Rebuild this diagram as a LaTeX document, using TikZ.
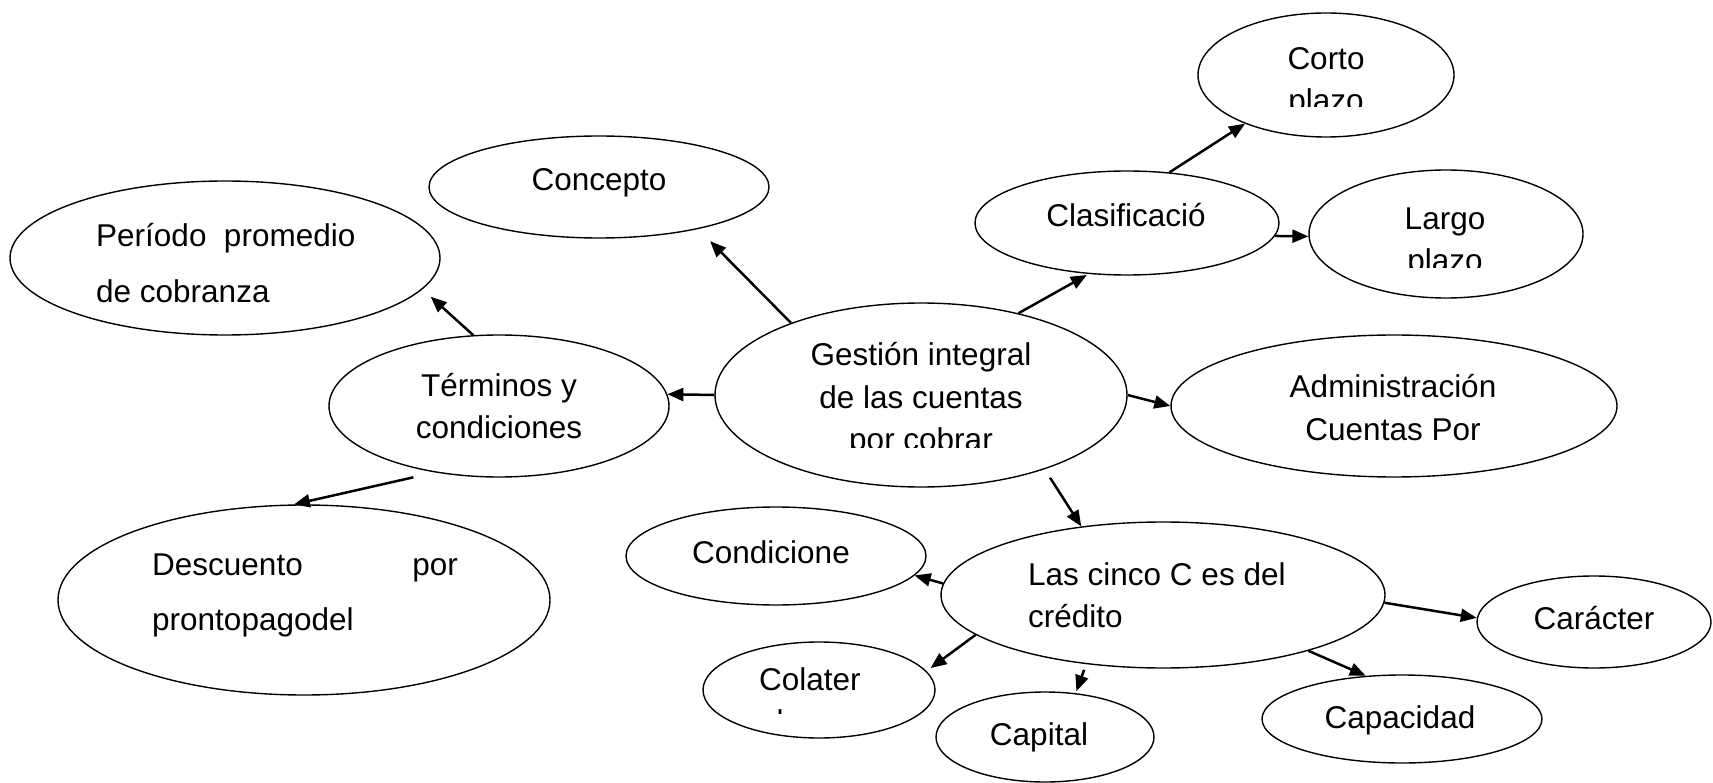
\documentclass[tikz,border=0pt]{standalone}
\usepackage{fontspec}
\setmainfont{Liberation Sans}
\usetikzlibrary{arrows.meta,shapes.geometric}
\begin{document}
\begin{tikzpicture}[x=1pt,y=-1pt,
  ell/.style={draw, ellipse, line width=1.4pt, inner sep=0pt},
  lbl/.style={inner sep=0pt, font=\fontsize{31.5}{42}\selectfont},
  arr/.style={line width=2.5pt, -{Triangle[length=16pt,width=13pt]}}]
\useasboundingbox (0,0) rectangle (1713,783);

% ellipses
\node[ell, minimum width=412pt, minimum height=184pt] (g)   at (921,395) {};
\node[ell, minimum width=340pt, minimum height=102pt] (con) at (599,187) {};
\node[ell, minimum width=430pt, minimum height=154pt] (per) at (225,258) {};
\node[ell, minimum width=340pt, minimum height=142pt] (ter) at (499,406) {};
\node[ell, minimum width=492pt, minimum height=190pt] (des) at (304,600) {};
\node[ell, minimum width=304pt, minimum height=104pt] (cla) at (1127,223) {};
\node[ell, minimum width=256pt, minimum height=124pt] (cor) at (1326,75) {};
\node[ell, minimum width=274pt, minimum height=128pt] (lar) at (1446,234) {};
\node[ell, minimum width=446pt, minimum height=142pt] (adm) at (1394,406) {};
\node[ell, minimum width=444pt, minimum height=146pt] (cin) at (1163,595) {};
\node[ell, minimum width=300pt, minimum height=98pt]  (cnd) at (776,556) {};
\node[ell, minimum width=232pt, minimum height=96pt]  (col) at (819,690) {};
\node[ell, minimum width=218pt, minimum height=90pt]  (cap) at (1045,737) {};
\node[ell, minimum width=280pt, minimum height=88pt]  (cpd) at (1402,719) {};
\node[ell, minimum width=234pt, minimum height=92pt]  (car) at (1594,622) {};

% texts
\node[lbl, anchor=base] (gt1) at (921,366) {Gestión integral};
\node[lbl, anchor=base] (gt2) at (921,408) {de las cuentas};
\begin{scope}
  \clip (800,420) rectangle (1040,447);
  \node[lbl, anchor=base] (gt3) at (921,450) {por cobrar};
\end{scope}
\node[lbl, anchor=base] (cont) at (599,191) {Concepto};
\node[lbl, anchor=base west] (pert1) at (96,247) {Período~~promedio};
\node[lbl, anchor=base west] (pert2) at (96,303) {de cobranza};
\node[lbl, anchor=base] (tert1) at (499,396) {Términos y};
\node[lbl, anchor=base] (tert2) at (499,438) {condiciones};
\node[lbl, anchor=base west] (dest1) at (152,575) {Descuento};
\node[lbl, anchor=base east] (dest2) at (458,575) {por};
\node[lbl, anchor=base west] (dest3) at (152,630) {prontopagodel};
\node[lbl, anchor=base] (clat) at (1126,227) {Clasificació};
\node[lbl, anchor=base] (cort1) at (1326,70) {Corto};
\begin{scope}
  \clip (1250,80) rectangle (1400,107);
  \node[lbl, anchor=base] (cort2) at (1326,112) {plazo};
\end{scope}
\node[lbl, anchor=base] (lart1) at (1445,230) {Largo};
\begin{scope}
  \clip (1370,240) rectangle (1520,268);
  \node[lbl, anchor=base] (lart2) at (1445,272) {plazo};
\end{scope}
\node[lbl, anchor=base] (admt1) at (1393,398) {Administración};
\node[lbl, anchor=base] (admt2) at (1393,440) {Cuentas Por};
\node[lbl, anchor=base west] (cint1) at (1028,585) {Las cinco C es del};
\node[lbl, anchor=base west] (cint2) at (1028,627) {crédito};
\node[lbl, anchor=base] (cndt) at (771,563) {Condicione};
\node[lbl, anchor=base west] (colt1) at (759,690) {Colater};
\begin{scope}
  \clip (740,700) rectangle (880,713);
  \node[lbl, anchor=base west] (colt2) at (759,732) {al};
\end{scope}
\node[lbl, anchor=base] (capt) at (1039,745) {Capital};
\node[lbl, anchor=base] (cpdt) at (1400,728) {Capacidad};
\node[lbl, anchor=base] (cart) at (1594,629) {Carácter};

% connectors
\draw[arr, shorten >=17pt] (g.151.9) -- (con.-23.4);
\draw[arr] (g.180) -- (ter.4);
\draw[arr, shorten >=11pt] (ter.110.6) -- (per.-9.6);
\draw[arr, shorten <=22pt] (ter.-134.6) -- (des.96.7);
\draw[arr, shorten >=2pt] (g.40.2) -- (cla.-127.7);
\draw[arr] (cla.50.3) -- (cor.-149.3);
\draw[arr] (cla.-5.3) -- (lar.181.3);
\draw[arr] (g.0) -- (adm.180);
\draw[arr, shorten <=10pt] (g.-31.3) -- (cin.140);
\draw[arr] (cin.177.9) -- (cnd.-8);
\draw[arr, shorten >=5pt] (cin.-168) -- (col.10.2);
\draw[arr, shorten <=6pt, shorten >=2pt] (cin.-138.4) -- (cap.55.4);
\draw[arr] (cin.-21.4) -- (cpd.130.8);
\draw[arr] (cin.-2.3) -- (car.178);
\end{tikzpicture}
\end{document}
